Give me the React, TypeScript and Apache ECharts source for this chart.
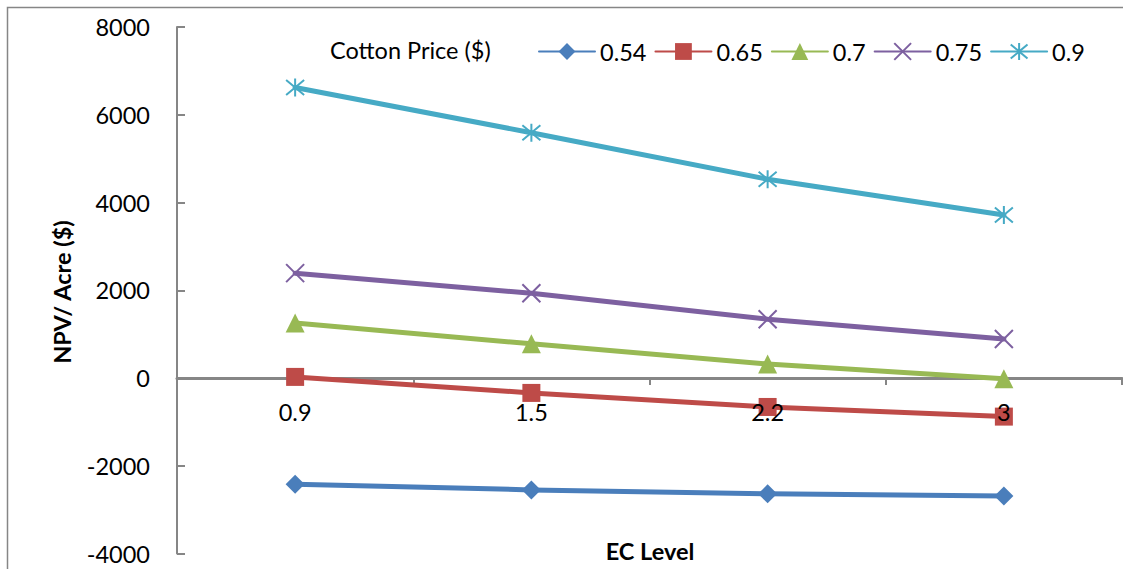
import React, { useEffect, useRef } from "react";
import * as echarts from "echarts";

// EC level categories along the horizontal axis
const ecLevels = ["0.9", "1.5", "2.2", "3"];

// NPV per acre ($) for each cotton price
const npvPrice054 = [-2420, -2550, -2640, -2690];
const npvPrice065 = [25, -340, -660, -880];
const npvPrice070 = [1255, 780, 320, -15];
const npvPrice075 = [2390, 1930, 1340, 890];
const npvPrice090 = [6620, 5590, 4530, 3715];

const priceNames = ["0.54", "0.65", "0.7", "0.75", "0.9"];
const priceColors = ["#4A7EBB", "#BE4B48", "#98B954", "#7D60A0", "#46AAC5"];

// Value axis range
const yMin = -4000;
const yMax = 8000;
const yStep = 2000;

const WIDTH = 1123;
const HEIGHT = 569;
const GRID = { left: 177, right: 1, top: 27, bottom: 15.5 };

const FONT = "Lato, 'Open Sans', sans-serif";
const FONT_SIZE = 23.5;
const AXIS_GREY = "#868686";

const crossSymbol = "path://M0,0L10,10M10,0L0,10";
const starSymbol = "path://M0,0L10,10M10,0L0,10M5,-1L5,11";

export default function App() {
  const ref = useRef<HTMLDivElement>(null);

  useEffect(() => {
    document.body.style.margin = "0";
    const chart = echarts.init(ref.current!, null, { renderer: "svg" });

    const seriesData = [npvPrice054, npvPrice065, npvPrice070, npvPrice075, npvPrice090];
    const symbols = ["diamond", "rect", "triangle", crossSymbol, starSymbol];
    const sizes = [19, 18, 19, 18, 18];
    const strokeOnly = [false, false, false, true, true];

    const series = seriesData.map((data, i) => ({
      name: priceNames[i],
      type: "line",
      data,
      symbol: symbols[i],
      symbolSize: sizes[i],
      showAllSymbol: true,
      lineStyle: { color: priceColors[i], width: 5, cap: "round", join: "round" },
      itemStyle: {
        color: priceColors[i],
        borderColor: priceColors[i],
        borderWidth: strokeOnly[i] ? 2 : 0,
      },
      emphasis: { disabled: true },
    }));

    // The label copy of the category axis sits on the zero line, lifted from the grid bottom
    const gridHeight = HEIGHT - GRID.top - GRID.bottom;
    const zeroLift = (gridHeight * (0 - yMin)) / (yMax - yMin);

    chart.setOption({
      animation: false,
      backgroundColor: "#ffffff",
      textStyle: { fontFamily: FONT },
      grid: { ...GRID, containLabel: false, outerBoundsMode: "none" },
      legend: {
        data: priceNames,
        left: 538,
        top: 39.5,
        padding: 0,
        orient: "horizontal",
        itemWidth: 56,
        itemHeight: 21,
        itemGap: 8,
        textStyle: { fontFamily: FONT, fontSize: FONT_SIZE, color: "#000" },
        selectedMode: false,
      },
      xAxis: [
        {
          type: "category",
          data: ecLevels,
          boundaryGap: true,
          position: "bottom",
          axisLine: { onZero: true, lineStyle: { color: AXIS_GREY, width: 3 } },
          axisTick: { show: true, inside: false, length: 7, lineStyle: { color: AXIS_GREY, width: 2 } },
          axisLabel: { show: false },
          splitLine: { show: false },
        },
        {
          // label-only copy of the category axis, drawn above the lines
          type: "category",
          data: ecLevels,
          boundaryGap: true,
          position: "bottom",
          offset: -zeroLift,
          z: 10,
          axisLine: { show: false, onZero: false },
          axisTick: { show: false },
          axisLabel: {
            show: true,
            margin: 22,
            fontFamily: FONT,
            fontSize: FONT_SIZE,
            color: "#000",
          },
          splitLine: { show: false },
        },
      ],
      yAxis: {
        type: "value",
        min: yMin,
        max: yMax,
        interval: yStep,
        splitLine: { show: false },
        axisLine: { show: true, onZero: false, lineStyle: { color: AXIS_GREY, width: 2 } },
        axisTick: { show: true, inside: true, length: 8, lineStyle: { color: AXIS_GREY, width: 2 } },
        axisLabel: {
          margin: 27,
          fontFamily: FONT,
          fontSize: FONT_SIZE,
          color: "#000",
          formatter: (v: number) => String(v),
        },
      },
      graphic: [
        {
          type: "rect",
          silent: true,
          shape: { x: 7.5, y: 7.5, width: 1300, height: 800 },
          style: { fill: "none", stroke: AXIS_GREY, lineWidth: 1.5 },
        },
        {
          type: "text",
          silent: true,
          x: 330,
          y: 50,
          style: {
            text: "Cotton Price ($)",
            fontFamily: FONT,
            fontSize: FONT_SIZE,
            fill: "#000",
            align: "left",
            verticalAlign: "middle",
          },
        },
        {
          type: "text",
          silent: true,
          x: 62,
          y: 292,
          rotation: Math.PI / 2,
          style: {
            text: "NPV/ Acre ($)",
            fontFamily: FONT,
            fontSize: FONT_SIZE,
            fontWeight: "bold",
            fill: "#000",
            align: "center",
            verticalAlign: "middle",
          },
        },
        {
          type: "text",
          silent: true,
          x: 650,
          y: 551,
          style: {
            text: "EC Level",
            fontFamily: FONT,
            fontSize: FONT_SIZE,
            fontWeight: "bold",
            fill: "#000",
            align: "center",
            verticalAlign: "middle",
          },
        },
      ],
      series,
    });

    return () => chart.dispose();
  }, []);

  return <div ref={ref} style={{ width: WIDTH, height: HEIGHT }} />;
}
